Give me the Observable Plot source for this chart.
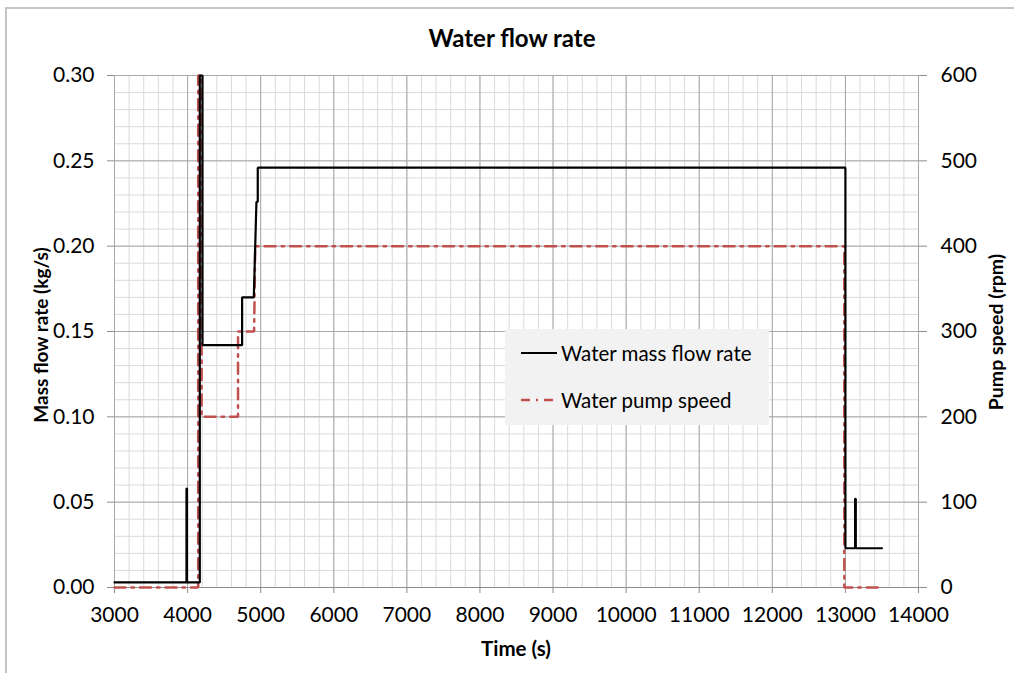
<!DOCTYPE html>
<html>
<head>
<meta charset="utf-8">
<script src="https://cdn.jsdelivr.net/npm/d3@7"></script>
<script src="https://cdn.jsdelivr.net/npm/@observablehq/plot@0.6"></script>
<style>
  html, body { margin: 0; padding: 0; background: #fff; }
  #wrap { position: relative; width: 1014px; height: 673px; overflow: hidden; font-family: Lato, "Open Sans", sans-serif; color: #000; }
  #frame { position: absolute; left: 5px; top: 7px; width: 1100px; height: 700px; border-left: 2px solid #c4c4c4; border-top: 2px solid #c4c4c4; }
  .t { position: absolute; white-space: nowrap; font-weight: 700; }
  #title { left: 0; width: 1024px; top: 23px; text-align: center; font-size: 24px; line-height: 30px; }
  #ylab { left: 40px; top: 335px; font-size: 19px; transform: translate(-50%, -50%) rotate(-90deg); }
  #ylab2 { left: 995px; top: 332px; font-size: 19.5px; transform: translate(-50%, -50%) rotate(-90deg); }
  #xlab { left: 516px; top: 648px; font-size: 20.5px; transform: translate(-50%, -50%); }
  #legend { position: absolute; left: 505px; top: 329px; width: 264px; height: 96px; background: #f2f2f2; font-size: 20.5px; }
  #legend .row { position: absolute; left: 16px; height: 26px; display: flex; align-items: center; }
  #legend svg { width: 38px; height: 10px; margin-right: 2px; }
  #chart { position: absolute; left: 0; top: 0; }
</style>
</head>
<body>
<div id="wrap">
  <div id="frame"></div>
  <div id="chart"></div>
  <div class="t" id="title">Water flow rate</div>
  <div class="t" id="ylab">Mass flow rate (kg/s)</div>
  <div class="t" id="ylab2">Pump speed (rpm)</div>
  <div class="t" id="xlab">Time (s)</div>
  <div id="legend">
    <div class="row" style="top:11px"><svg><line x1="0" y1="5" x2="36" y2="5" stroke="#000" stroke-width="2.2"/></svg>Water mass flow rate</div>
    <div class="row" style="top:58px"><svg><line x1="0" y1="5" x2="38" y2="5" stroke="#c0504d" stroke-width="2.5" stroke-dasharray="9,6,2,6"/></svg>Water pump speed</div>
  </div>
</div>
<script>
// Water mass flow rate (kg/s) vs time (s)
const flowTime = [3000, 3985, 3985, 3992, 3992, 4167, 4167, 4204, 4204, 4746, 4746, 4906, 4942, 4960, 4960, 13000, 13000, 13133, 13133, 13142, 13142, 13500];
const flowRate = [0.003, 0.003, 0.058, 0.058, 0.003, 0.003, 0.32, 0.32, 0.142, 0.142, 0.170, 0.170, 0.226, 0.226, 0.246, 0.246, 0.023, 0.023, 0.052, 0.052, 0.023, 0.023];
// Water pump speed (rpm) vs time (s)
const pumpTime = [3000, 4145, 4145, 4192, 4192, 4690, 4690, 4910, 4925, 12985, 12985, 13450];
const pumpSpeed = [0, 0, 650, 650, 200, 200, 300, 300, 400, 400, 0, 0];
// axes
const xTicks = [3000, 4000, 5000, 6000, 7000, 8000, 9000, 10000, 11000, 12000, 13000, 14000];
const yTicks = [0, 0.05, 0.10, 0.15, 0.20, 0.25, 0.30];
const rpmPerKgs = 2000; // 600 rpm <-> 0.30 kg/s

const flowRows = flowTime.map((t, i) => ({t, v: flowRate[i]}));
const pumpRows = pumpTime.map((t, i) => ({t, rpm: pumpSpeed[i]}));
const xMinor = d3.range(3000, 14001, 200);
const yMinor = d3.range(0, 31).map(i => i / 100);

const chart = Plot.plot({
  width: 1014,
  height: 673,
  marginLeft: 114,
  marginRight: 96,
  marginTop: 75,
  marginBottom: 86,
  style: {fontFamily: "Lato, 'Open Sans', sans-serif", fontSize: "21px", color: "#000", background: "transparent"},
  x: {domain: [3000, 14000]},
  y: {domain: [0, 0.30], clamp: true},
  marks: [
    Plot.gridX(xMinor, {stroke: "#dadada", strokeOpacity: 1}),
    Plot.gridY(yMinor, {stroke: "#dadada", strokeOpacity: 1}),
    Plot.gridX(xTicks, {stroke: "#a8a8a8", strokeOpacity: 1}),
    Plot.gridY(yTicks, {stroke: "#a8a8a8", strokeOpacity: 1}),
    Plot.ruleY([0], {stroke: "#8c8c8c"}),
    Plot.axisX(xTicks, {tickSize: 6, tickPadding: 14, tickFormat: d => String(d), stroke: "#8c8c8c", label: null}),
    Plot.axisY(yTicks, {anchor: "left", tickSize: 7, tickPadding: 13, tickFormat: d3.format(".2f"), stroke: "#8c8c8c", label: null}),
    Plot.axisY(yTicks, {anchor: "right", tickSize: 8, tickPadding: 14, tickFormat: d => String(Math.round(d * rpmPerKgs)), stroke: "#8c8c8c", label: null}),
    Plot.line(pumpRows, {x: "t", y: d => d.rpm / rpmPerKgs, stroke: "#c0504d", strokeWidth: 2.5, strokeDasharray: "11,6,2.5,6", strokeLinejoin: "miter"}),
    Plot.line(flowRows, {x: "t", y: "v", stroke: "#000", strokeWidth: 2.2, strokeLinejoin: "miter"})
  ]
});
document.getElementById("chart").appendChild(chart);
</script>
</body>
</html>
